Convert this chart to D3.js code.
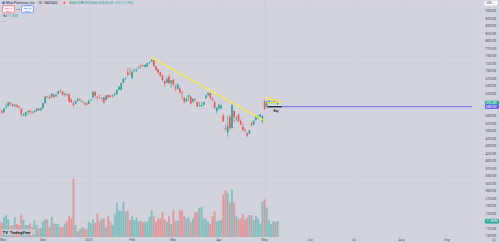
<!DOCTYPE html>
<html>
<head>
<meta charset="utf-8">
<script src="https://cdn.jsdelivr.net/npm/d3@7"></script>
<style>
  html, body { margin: 0; padding: 0; background: #d2d3dd; overflow: hidden; }
  svg { display: block; font-family: Roboto, "Liberation Sans", sans-serif; }
</style>
</head>
<body>
<div class="chart"></div>
<script>
// META daily, Nov 2024 - May 2025
var dates = [
  "2024-11-01","2024-11-04","2024-11-05","2024-11-06","2024-11-07","2024-11-08","2024-11-11","2024-11-12","2024-11-13","2024-11-14",
  "2024-11-15","2024-11-18","2024-11-19","2024-11-20","2024-11-21","2024-11-22","2024-11-25","2024-11-26","2024-11-27","2024-11-29",
  "2024-12-02","2024-12-03","2024-12-04","2024-12-05","2024-12-06","2024-12-09","2024-12-10","2024-12-11","2024-12-12","2024-12-13",
  "2024-12-16","2024-12-17","2024-12-18","2024-12-19","2024-12-20","2024-12-23","2024-12-24","2024-12-26","2024-12-27","2024-12-30","2024-12-31",
  "2025-01-02","2025-01-03","2025-01-06","2025-01-07","2025-01-08","2025-01-10","2025-01-13","2025-01-14","2025-01-15","2025-01-16",
  "2025-01-17","2025-01-21","2025-01-22","2025-01-23","2025-01-24","2025-01-27","2025-01-28","2025-01-29","2025-01-30","2025-01-31",
  "2025-02-03","2025-02-04","2025-02-05","2025-02-06","2025-02-07","2025-02-10","2025-02-11","2025-02-12","2025-02-13","2025-02-14",
  "2025-02-18","2025-02-19","2025-02-20","2025-02-21","2025-02-24","2025-02-25","2025-02-26","2025-02-27","2025-02-28",
  "2025-03-03","2025-03-04","2025-03-05","2025-03-06","2025-03-07","2025-03-10","2025-03-11","2025-03-12","2025-03-13","2025-03-14",
  "2025-03-17","2025-03-18","2025-03-19","2025-03-20","2025-03-21","2025-03-24","2025-03-25","2025-03-26","2025-03-27","2025-03-28","2025-03-31",
  "2025-04-01","2025-04-02","2025-04-03","2025-04-04","2025-04-07","2025-04-08","2025-04-09","2025-04-10","2025-04-11","2025-04-14",
  "2025-04-15","2025-04-16","2025-04-17","2025-04-21","2025-04-22","2025-04-23","2025-04-24","2025-04-25","2025-04-28","2025-04-29","2025-04-30",
  "2025-05-01","2025-05-02","2025-05-05","2025-05-06","2025-05-07","2025-05-08","2025-05-09"
];
var open = [
  571,566,561,578,582,593,588,582,585,580,573,551,549,562,567,561,562,565,573,568,
  575,592,615,612,612,620,614,622,632,630,621,622,620,602,591,590,600,605,598,593,592,
  589,604,612,630,612,617,608,612,603,620,617,616,619,622,637,636,660,673,695,690,
  676,701,704,709,717,718,713,715,725,731,735,714,705,695,685,665,660,680,658,
  670,645,640,640,627,610,598,612,613,597,606,595,584,581,586,608,618,625,606,596,565,
  574,574,550,507,494,546,509,566,540,554,532,512,502,491,490,524,520,536,548,547,531,
  597,581,592,594,597,601,588
];
var high = [
  575,567,575,590,597,595,590,589,588,584,574,558,562,566,571,564,568,575,575,577,
  594,616,616,618,625,624,622,633,638,632,625,623,626,609,597,601,608,607,602,596,594,
  603,606,630,631,616,620,612,612,618,620,619,620,625,638,648,660,675,678,709,711,
  701,705,707,715,720,721,721,727,731,740,735,717,706,697,687,667,680,688,669,
  672,655,657,647,633,613,612,619,616,609,608,597,596,595,596,619,627,625,612,598,580,
  589,590,557,522,548,551,587,567,549,556,538,524,510,495,505,531,536,547,552,556,551,
  603,599,603,599,602,604,598
];
var low = [
  561,555,559,572,580,585,580,578,577,574,550,549,548,555,556,555,558,564,566,567,
  574,590,607,605,609,610,613,621,628,617,613,614,595,594,578,587,598,598,592,584,584,
  589,598,606,611,602,606,599,590,602,609,611,610,614,621,636,633,658,667,680,686,
  672,696,696,705,707,713,712,711,722,728,713,699,688,681,666,645,659,657,643,
  648,630,636,624,605,591,595,600,587,594,597,579,580,580,582,605,617,606,598,572,558,
  571,573,529,502,480,504,505,528,532,529,518,500,495,479,489,515,518,532,538,545,524,
  570,578,590,589,590,592,583
];
var close = [
  567,560,573,580,595,589,583,585,580,577,554,554,561,565,563,559,565,573,569,574,
  592,613,613,608,623,613,619,632,630,620,624,619,597,595,585,599,607,603,599,591,585,
  599,604,630,617,610,615,608,594,617,611,612,617,623,636,647,659,673,676,687,689,
  697,704,704,711,714,717,719,725,728,736,716,703,694,683,668,657,673,658,668,
  655,640,656,628,625,598,605,619,590,607,604,582,585,586,596,618,626,610,602,576,576,
  586,583,531,504,516,510,585,546,543,531,521,502,501,484,500,520,533,547,550,554,549,
  572,597,599,596,598,597,592.49
];
// volume in millions
var volume = [
  11.3,10.6,14.8,16.3,13.1,8.1,8.9,14.6,9.6,8.9,16.3,12.6,8.9,8.9,10.1,7.6,12.1,8.9,6.4,6.7,
  11.3,13.1,13.1,7.2,15.0,10.1,9.6,9.6,7.2,7.6,10.1,11.8,15.5,13.5,43.4,8.9,4.4,5.7,7.2,6.4,5.7,
  11.3,10.1,13.1,10.6,17.5,12.1,13.8,13.8,7.2,15.5,11.3,8.9,17.0,25.4,19.5,19.5,26.1,18.7,19.5,12.6,
  15.5,12.6,14.6,11.3,11.8,10.9,11.3,11.3,15.0,20.0,15.5,11.3,13.8,13.8,18.7,13.1,11.3,15.5,9.6,
  19.5,12.1,12.1,19.5,20.0,15.5,13.8,14.6,11.3,13.8,18.3,18.3,21.7,22.4,13.8,13.3,11.3,9.4,15.5,19.2,11.3,
  12.1,12.6,31.6,34.8,32.8,25.4,35.3,25.4,15.5,13.1,13.8,17.0,13.1,14.6,16.3,16.3,12.6,15.5,13.8,10.1,26.1,
  27.9,22.0,12.6,9.6,11.8,11.1,11.8
];

// time axis: bar index of each month's first session (future ones projected)
var tickIdx = [0, 20, 41, 61, 80, 101, 122, 143, 163, 185, 206];
var tickLabels = ["Nov", "Dec", "2025", "Feb", "Mar", "Apr", "May", "Jun", "Jul", "Aug", "Sep"];
var priceTicks = d3.range(150, 901, 25);

// drawings on the chart: [bar index, price]
var trendLine = [[69.7, 744.5], [122.2, 532.5]];
var pennantTop = [[122.4, 611], [129.6, 596.5]];
var pennantBottom = [[123.0, 593], [129.6, 596.5]];
var buyLevel = 580;
var buyStart = 123.2, buyEnd = 130;

var upColor = "#26a69a", downColor = "#ef5350";
var width = 500, height = 243, paneRight = 472, paneBottom = 237;

var svg = d3.select(".chart").append("svg")
  .attr("width", width)
  .attr("height", height);

svg.append("rect").attr("width", width).attr("height", height).attr("fill", "#d2d3dd");

var x = d3.scaleLinear().domain([0, 206]).range([-0.4, 447]);
var y = d3.scaleLinear().domain([150, 900]).range([235.7, 10.7]);
var yVol = d3.scaleLinear().domain([0, 46]).range([paneBottom, 175]);

svg.append("clipPath").attr("id", "pane")
  .append("rect").attr("x", 0).attr("y", 0).attr("width", paneRight).attr("height", paneBottom);

// grid
var grid = svg.append("g").attr("clip-path", "url(#pane)");
grid.selectAll(".hg").data(priceTicks).enter().append("line")
  .attr("x1", 0).attr("x2", paneRight)
  .attr("y1", d => Math.round(y(d)) + 0.5).attr("y2", d => Math.round(y(d)) + 0.5)
  .attr("stroke", "#cbccd7").attr("stroke-width", 0.5);
grid.selectAll(".vg").data(tickIdx).enter().append("line")
  .attr("x1", d => x(d)).attr("x2", d => x(d))
  .attr("y1", 0).attr("y2", paneBottom)
  .attr("stroke", "#cbccd7").attr("stroke-width", 0.5);

var bars = d3.range(dates.length);
var isUp = i => close[i] >= open[i];
var plot = svg.append("g").attr("clip-path", "url(#pane)");

// volume
plot.selectAll(".vol").data(bars).enter().append("rect")
  .attr("x", i => x(i) - 0.95)
  .attr("width", 1.9)
  .attr("y", i => yVol(volume[i]))
  .attr("height", i => paneBottom - yVol(volume[i]))
  .attr("fill", i => isUp(i) ? upColor : downColor)
  .attr("fill-opacity", 0.45);

// candles
plot.selectAll(".wick").data(bars).enter().append("line")
  .attr("x1", i => x(i)).attr("x2", i => x(i))
  .attr("y1", i => y(high[i])).attr("y2", i => y(low[i]))
  .attr("stroke", i => isUp(i) ? upColor : downColor)
  .attr("stroke-width", 0.6);
plot.selectAll(".body").data(bars).enter().append("rect")
  .attr("x", i => x(i) - 0.8)
  .attr("width", 1.6)
  .attr("y", i => y(Math.max(open[i], close[i])))
  .attr("height", i => Math.max(0.6, Math.abs(y(open[i]) - y(close[i]))))
  .attr("fill", i => isUp(i) ? upColor : downColor);

// drawings
var pt = d => [x(d[0]), y(d[1])];
var line = d3.line().x(d => pt(d)[0]).y(d => pt(d)[1]);
[trendLine, pennantTop, pennantBottom].forEach(function (seg) {
  plot.append("path").attr("d", line(seg))
    .attr("fill", "none").attr("stroke", "#ffeb3b").attr("stroke-width", 1.2);
});
plot.append("line")
  .attr("x1", x(buyEnd)).attr("x2", paneRight)
  .attr("y1", y(buyLevel)).attr("y2", y(buyLevel))
  .attr("stroke", "#7469f0").attr("stroke-width", 1);
plot.append("line")
  .attr("x1", x(buyStart)).attr("x2", x(buyEnd))
  .attr("y1", y(buyLevel) - 1).attr("y2", y(buyLevel) - 1)
  .attr("stroke", "#f4f4f8").attr("stroke-width", 0.7);
plot.append("line")
  .attr("x1", x(buyStart)).attr("x2", x(buyEnd))
  .attr("y1", y(buyLevel)).attr("y2", y(buyLevel))
  .attr("stroke", "#1e1f26").attr("stroke-width", 1.3);
plot.append("text")
  .attr("x", (x(buyStart) + x(buyEnd)) / 2 + 1.5).attr("y", y(buyLevel) + 5.4)
  .attr("text-anchor", "middle").attr("font-size", 3).attr("font-weight", "bold")
  .attr("fill", "#2a2e39").text("Buy");

// time axis labels (first one pinned to the left edge)
svg.append("g").selectAll("text").data(tickIdx).enter().append("text")
  .attr("x", d => Math.max(0.3, x(d)))
  .attr("y", 240.6)
  .attr("text-anchor", d => x(d) < 4 ? "start" : "middle")
  .attr("font-size", 3.3)
  .attr("fill", "#4a4e5a")
  .text((d, i) => tickLabels[i]);

// price axis
var lastClose = close[close.length - 1];
var hidden = [600, 575, 200];
var yAxis = d3.axisRight(y).tickValues(priceTicks.filter(d => hidden.indexOf(d) < 0))
  .tickSize(0).tickFormat(d3.format(".2f"));
var ax = svg.append("g").attr("transform", `translate(${paneRight + 13.5},0)`).call(yAxis);
ax.select(".domain").remove();
ax.selectAll("text").attr("x", 0).attr("font-size", 3.5).attr("fill", "#3c3f4a")
  .attr("font-family", "Roboto, 'Liberation Sans', sans-serif");

function axisLabel(yy, txt, color) {
  svg.append("rect").attr("x", 485).attr("y", yy - 2.3).attr("width", 14).attr("height", 4.6)
    .attr("rx", 0.8).attr("fill", color);
  svg.append("text").attr("x", 486).attr("y", yy + 1.2).attr("font-size", 3.4)
    .attr("fill", "#ffffff").text(txt);
}
axisLabel(y(lastClose), d3.format(".2f")(lastClose), upColor);
axisLabel(y(buyLevel), d3.format(".2f")(buyLevel), "#6c5ff2");
var lastVol = volume[volume.length - 1];
axisLabel(yVol(lastVol), lastVol.toFixed(2) + "M", isUp(dates.length - 1) ? upColor : downColor);

// USD button + gear
svg.append("rect").attr("x", 484.5).attr("y", 0.8).attr("width", 13).attr("height", 4.6)
  .attr("rx", 0.8).attr("fill", "#ffffff");
svg.append("text").attr("x", 486).attr("y", 4.2).attr("font-size", 3).attr("fill", "#2a2e39").text("USD ⌄");
svg.append("circle").attr("cx", 494).attr("cy", 239.8).attr("r", 1.4)
  .attr("fill", "none").attr("stroke", "#6a6d78").attr("stroke-width", 0.5);

// legend
var leg = svg.append("g").attr("font-size", 3.3);
leg.append("circle").attr("cx", 3.6).attr("cy", 2.8).attr("r", 1.3).attr("fill", "#2a6ad8");
leg.append("text").attr("x", 5.8).attr("y", 4).attr("fill", "#2a2e39")
  .text("Meta Platforms, Inc. · 1D · NASDAQ");
leg.append("rect").attr("x", 62).attr("y", 0.9).attr("width", 4.6).attr("height", 3.8)
  .attr("rx", 0.8).attr("fill", "#f7c9d0");
leg.append("circle").attr("cx", 64.3).attr("cy", 2.8).attr("r", 1).attr("fill", "#f23645");
var n = dates.length - 1;
var chg = close[n] - close[n - 1];
var ohlc = leg.append("text").attr("x", 69.5).attr("y", 4).attr("font-size", 2.8).attr("fill", upColor);
[["O", open[n]], ["H", high[n]], ["L", low[n]], ["C", close[n]]].forEach(function (p) {
  ohlc.append("tspan").attr("fill", "#2a2e39").text(p[0]);
  ohlc.append("tspan").text(d3.format(".2f")(p[1]) + " ");
});
ohlc.append("tspan").text(d3.format("+.2f")(chg) + " (" + d3.format("+.2%")(chg / close[n - 1]) + ")");

function tradeBtn(x0, color, label) {
  leg.append("rect").attr("x", x0).attr("y", 5.7).attr("width", 12).attr("height", 7)
    .attr("rx", 1).attr("fill", "#eef0f6").attr("stroke", color).attr("stroke-width", 0.5);
  leg.append("text").attr("x", x0 + 6).attr("y", 8.8).attr("text-anchor", "middle")
    .attr("font-size", 2.3).attr("fill", color).text(d3.format(".2f")(lastClose));
  leg.append("text").attr("x", x0 + 6).attr("y", 11.6).attr("text-anchor", "middle")
    .attr("font-size", 2.3).attr("fill", color).text(label);
}
tradeBtn(2.5, "#f23645", "SELL");
tradeBtn(21.5, "#2962ff", "BUY");
leg.append("text").attr("x", 18).attr("y", 10).attr("text-anchor", "middle")
  .attr("font-size", 2.2).attr("fill", "#2a2e39").text("0.00");
leg.append("text").attr("x", 2.7).attr("y", 16.9).attr("font-size", 3).attr("fill", "#2a2e39").text("Vol");
leg.append("text").attr("x", 8).attr("y", 16.9).attr("font-size", 3).attr("fill", upColor)
  .text(lastVol.toFixed(2) + "M");
leg.append("text").attr("x", 2.7).attr("y", 23).attr("font-size", 3).attr("fill", "#2a2e39").text("⌃");

// TradingView badge
var tv = svg.append("g");
tv.append("rect").attr("x", 1.5).attr("y", 229.3).attr("width", 34).attr("height", 5.6)
  .attr("rx", 1).attr("fill", "#d2d3dd").attr("fill-opacity", 0.7);
tv.append("text").attr("x", 2.5).attr("y", 233.6).attr("font-size", 4.2).attr("font-weight", "bold")
  .attr("fill", "#131722").text("TV");
tv.append("text").attr("x", 10).attr("y", 233.5).attr("font-size", 3.6).attr("font-weight", "bold")
  .attr("fill", "#131722").text("TradingView");
</script>
</body>
</html>
